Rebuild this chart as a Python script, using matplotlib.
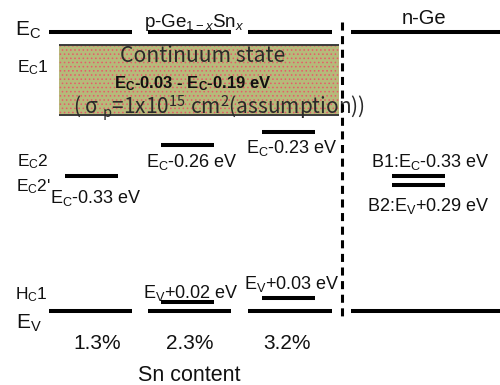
import matplotlib
matplotlib.use("Agg")
import matplotlib.pyplot as plt
from matplotlib.patches import Rectangle

plt.rcParams['font.family'] = ['Liberation Sans', 'DejaVu Sans']
plt.rcParams['mathtext.fontset'] = 'custom'
plt.rcParams['mathtext.rm'] = 'Liberation Sans'
plt.rcParams['mathtext.it'] = 'Liberation Sans:italic'
plt.rcParams['mathtext.bf'] = 'Liberation Sans:bold'
plt.rcParams['lines.scale_dashes'] = False
plt.rcParams['hatch.linewidth'] = 0.6

# ---- level data (eV) ----
sn_content = ["1.3%", "2.3%", "3.2%"]
ec_trap_depth = [0.33, 0.26, 0.23]        # E_C - depth, p-GeSn electron traps
ev_trap_height = [None, 0.02, 0.03]       # E_V + height, p-GeSn hole traps (H_C1)
continuum_range = [0.03, 0.19]            # continuum state, E_C - value
b1_depth = 0.33                           # n-Ge B1: E_C - depth
b2_height = 0.29                          # n-Ge B2: E_V + height
band_gap = 0.64                           # E_C - E_V used for the diagram

EV = 0.0
EC = EV + band_gap

fig = plt.figure(figsize=(5, 3.85), dpi=100)
ax = fig.add_axes([0, 0, 1, 1])
ax.set_xlim(0, 500)
ax.set_ylim(-0.170, 0.7135)
ax.axis('off')

LW = 2.9
TXT = '#111111'
CJK = ['Noto Sans CJK JP', 'DejaVu Sans']
p_segments = [(49, 132), (148, 231), (248, 332)]
n_segment = (351, 500)
col_centers = [91.5, 187.5, 288.0]
trap_half = 26.5
b_center = 418.0

def label(text, x, y, dx, dy, size, ha='center', **kw):
    ax.annotate(text, (x, y), xytext=(dx, dy), textcoords='offset pixels',
                ha=ha, va='baseline', fontsize=size, color=kw.pop('color', TXT), **kw)

# continuum state box
c_top = EC - continuum_range[0]
c_bot = EC - continuum_range[1]
ax.add_patch(Rectangle((59, c_bot), 280, c_top - c_bot, facecolor='#b6ba7a',
                       edgecolor='#e85a6a', hatch='....', lw=0, zorder=1))
ax.hlines([c_top, c_bot], 59, 339, color='#3a3a3a', lw=1.4, zorder=2)
label('Continuum state', 203, c_top, 0, -17, 15.2, family=CJK, color='#2a2a2a')
label(r'$\mathregular{E_C}$-%.2f - $\mathregular{E_C}$-%.2f eV' % tuple(continuum_range),
      193, c_top, 0, -43, 12.0, fontweight='bold')
label('( σ $_\\mathregular{p}$=1x10$^\\mathregular{15}$ cm$^\\mathregular{2}$(assumption))',
      219, c_top, 0, -69, 15.0, family=CJK, color='#2a2a2a')

# band edges
for x0, x1 in p_segments + [n_segment]:
    ax.hlines([EC, EV], x0, x1, color='black', lw=LW, zorder=3)

# p/n interface
ax.plot([342, 342], [EC + 0.023, EV - 0.016], color='black', lw=2.2,
        linestyle=(0, (5.8, 4.0)), solid_capstyle='butt', zorder=3)

# p-GeSn traps
ec_dx = [4, 4.5, 4]
ec_dy = [-27, -22, -21]
for c, d, dx, dy in zip(col_centers, ec_trap_depth, ec_dx, ec_dy):
    ax.hlines(EC - d, c - trap_half, c + trap_half, color='black', lw=LW, zorder=3)
    label(r'$\mathregular{E_C}$-%.2f eV' % d, c, EC - d, dx, dy, 13)

ev_dy = [None, 4, 9]
for c, h, dy in zip(col_centers, ev_trap_height, ev_dy):
    if h is None:
        continue
    ax.hlines(EV + h, c - trap_half, c + trap_half, color='black', lw=LW, zorder=3)
    label(r'$\mathregular{E_V}$+%.2f eV' % h, c, EV + h, 3.5, dy, 13, zorder=2)

# n-Ge traps
ax.hlines(EC - b1_depth, b_center - trap_half, b_center + trap_half, color='black', lw=LW)
ax.hlines(EV + b2_height, b_center - trap_half, b_center + trap_half, color='black', lw=LW)
label(r'B1:$\mathregular{E_C}$-%.2f eV' % b1_depth, b_center, EC - b1_depth, 12, 9, 13)
label(r'B2:$\mathregular{E_V}$+%.2f eV' % b2_height, b_center, EV + b2_height, 10, -26, 13)

# left-hand level names
label(r'$\mathregular{E_C}$', 15, EC, 0, -4, 15, ha='left')
label(r'$\mathregular{E_V}$', 16, EV, 0, -18, 15, ha='left')
label(r'$\mathregular{E_C}$1', 17, c_top, 0, -27, 12.5, ha='left')
label(r'$\mathregular{E_C}$2', 17, EC - ec_trap_depth[0], 0, 10, 12.5, ha='left')
label(r"$\mathregular{E_C}$2'", 16, EC - ec_trap_depth[0], 0, -15, 12.5, ha='left')
label(r'$\mathregular{H_C}$1', 15, EV, 0, 12, 12.5, ha='left')

# region headers
label(r'p-Ge$_{\mathregular{1-}\mathit{x}}$Sn$_{\mathit{x}}$', 194.5, EC, 0, 5, 13.5)
label('n-Ge', 424, EC, 0, 8, 14.5)

# Sn content axis
pct_x = [97.5, 190, 287]
for x, s in zip(pct_x, sn_content):
    label(s, x, EV, 0, -38, 15)
label('Sn content', 189, EV, 0, -70, 15.5)

fig.savefig('out.png', dpi=100)
